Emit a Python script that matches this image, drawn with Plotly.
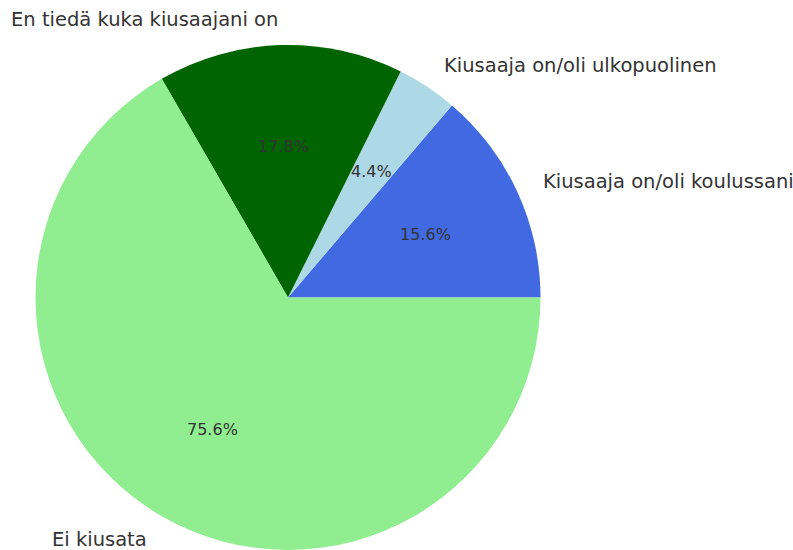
import math
import plotly.graph_objects as go

labels = ["Kiusaaja on/oli koulussani", "Kiusaaja on/oli ulkopuolinen",
          "En tiedä kuka kiusaajani on", "Ei kiusata"]
values = [15.6, 4.4, 17.8, 75.6]
colors = ["#4169E1", "#ADD8E6", "#006400", "#90EE90"]

W, H = 793, 550
# pie geometry (pixels)
cx, cy, R = 288, 298, 253
dom_x = [(cx - R) / W, (cx + R) / W]
dom_y = [max(0.0, (H - cy - R) / H), (H - cy + R) / H]

total = sum(values)

fig = go.Figure(go.Pie(
    labels=labels, values=values, marker=dict(colors=colors, line=dict(width=0)),
    sort=False, direction="counterclockwise",
    rotation=90 - 360.0 * values[0] / total,
    textinfo="none", hoverinfo="label+value", showlegend=False,
    domain=dict(x=dom_x, y=dom_y),
))

start = 0.0
ann = []
for lab, v in zip(labels, values):
    span = 360.0 * v / total
    mid = math.radians(start + span / 2)
    start += span
    c, s = math.cos(mid), math.sin(mid)
    # percent text at 0.6 R
    px, py = cx + 0.6 * R * c, cy - 0.6 * R * s
    ann.append(dict(x=px / W, y=1 - py / H, xref="paper", yref="paper",
                    text=f"{v:.1f}%", showarrow=False, xanchor="center", yanchor="middle",
                    font=dict(family="DejaVu Sans", size=16, color="#333333")))
    lx, ly = cx + 1.1 * R * c, cy - 1.1 * R * s
    ann.append(dict(x=lx / W, y=1 - ly / H, xref="paper", yref="paper",
                    text=lab, showarrow=False,
                    xanchor="left" if c > 0 else "right", yanchor="middle",
                    font=dict(family="DejaVu Sans", size=19.5, color="#333333")))

fig.update_layout(width=W, height=H, margin=dict(l=0, r=0, t=0, b=0),
                  paper_bgcolor="white", plot_bgcolor="white", annotations=ann)
fig.write_html("out.html", config={"displayModeBar": False},
               post_script="document.body.style.margin='0';document.body.style.overflow='hidden';")
